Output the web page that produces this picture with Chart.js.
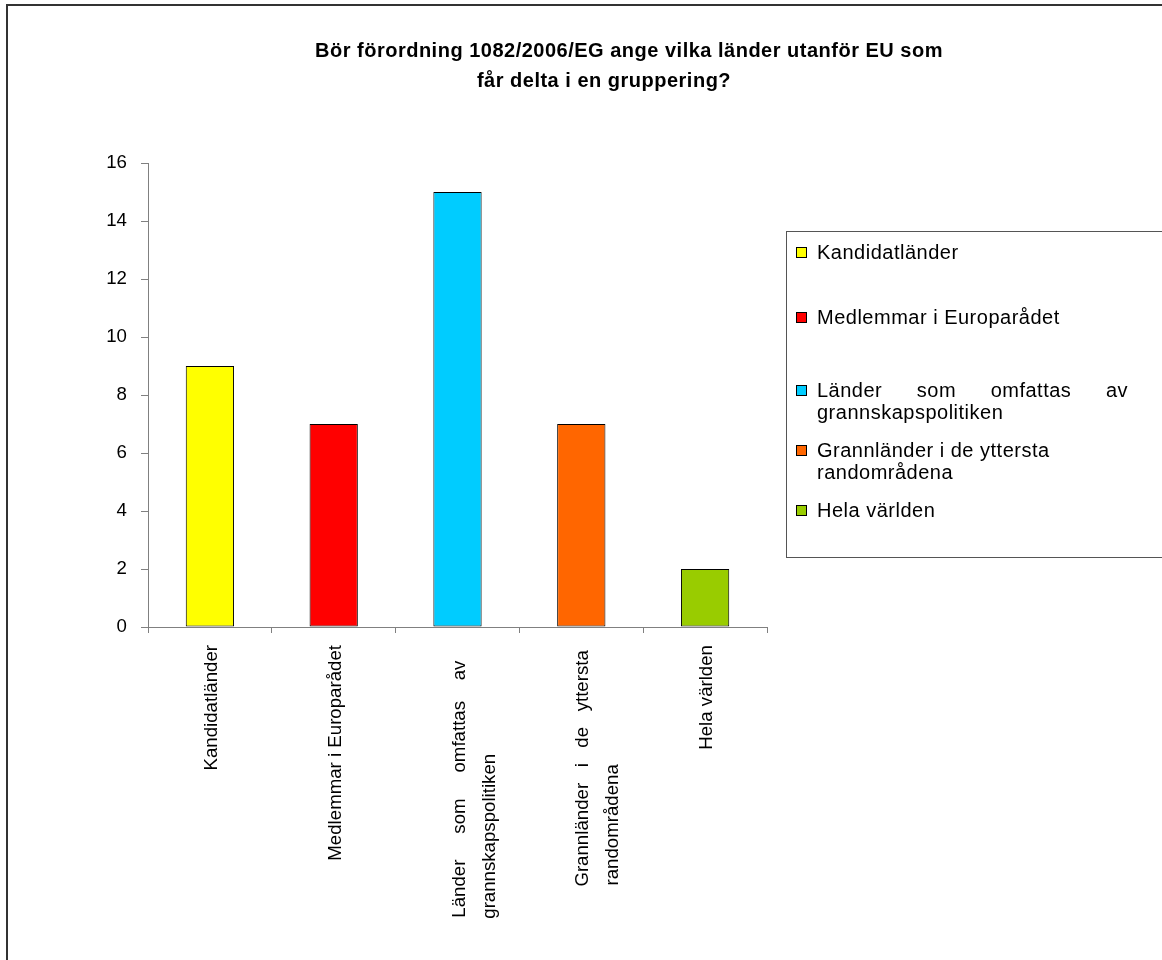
<!DOCTYPE html>
<html><head><meta charset="utf-8">
<script src="https://cdn.jsdelivr.net/npm/chart.js@4/dist/chart.umd.min.js"></script>
<style>html,body{margin:0;padding:0;background:#fff}canvas{display:block}</style>
</head><body>
<canvas id="c" width="1162" height="960"></canvas>
<script>
// ---- data ----
const titleLines = ['Bör förordning 1082/2006/EG ange vilka länder utanför EU som', 'får delta i en gruppering?'];
const categories = [
  ['Kandidatländer'],
  ['Medlemmar i Europarådet'],
  ['Länder som omfattas av', 'grannskapspolitiken'],
  ['Grannländer i de yttersta', 'randområdena'],
  ['Hela världen']
];
const values = [9, 7, 15, 7, 2];
const barColors = ['#FFFF00', '#FF0000', '#00CCFF', '#FF6600', '#99CC00'];
const yMin = 0, yMax = 16, yStep = 2;

// ---- styling helpers ----
const FAMILY = '"Liberation Sans", Arial, sans-serif';
const FS = 18.67;
const mctx = document.createElement('canvas').getContext('2d');
mctx.font = FS + 'px ' + FAMILY;
const W = s => mctx.measureText(s).width;
const SP = W(' ');

function justify(text, target) {
  const words = text.split(' ');
  const gaps = words.length - 1;
  let extra = Math.max(0, Math.round((target - W(text)) / SP));
  const g = new Array(gaps).fill(1);
  for (let i = 0; extra > 0; i = (i + 1) % gaps, extra--) g[i]++;
  return words.map((w, i) => w + (i < gaps ? ' '.repeat(g[i]) : '')).join('');
}
function padTo(text, target) {
  const n = Math.max(0, Math.round((target - W(text)) / SP));
  return text + ' '.repeat(n);
}
// Excel-like wrapped label layout: justified first line, lines starting together
const wrapWidth = [0, 0, 255, 235, 0];
const topShift = [0, 0, 17, 5, 0];
const axisLabels = categories.map((lines, i) => {
  if (lines.length === 1) return lines[0];
  let first = justify(lines[0], wrapWidth[i]);
  first = padTo(first, W(first) + topShift[i]);
  const w = W(first);
  return [first].concat(lines.slice(1).map(l => padTo(l, w)));
});

const LFS = 20;
const decor = {
  id: 'decor',
  beforeDraw(chart) {
    const ctx = chart.ctx;
    ctx.save();
    ctx.fillStyle = '#fff';
    ctx.fillRect(0, 0, chart.width, chart.height);
    ctx.restore();
  },
  afterDraw(chart) {
    const ctx = chart.ctx;
    ctx.save();
    // outer frame
    ctx.strokeStyle = '#333';
    ctx.lineWidth = 2;
    ctx.strokeRect(7, 5, 3000, 3000);
    // title
    ctx.fillStyle = '#000';
    ctx.font = 'bold ' + LFS + 'px ' + FAMILY;
    ctx.letterSpacing = '0.5px';
    ctx.textAlign = 'center';
    ctx.textBaseline = 'alphabetic';
    ctx.fillText(titleLines[0], 629, 56.5);
    ctx.fillText(titleLines[1], 604, 86.5);
    // legend frame
    ctx.letterSpacing = '0px';
    ctx.strokeStyle = '#555';
    ctx.lineWidth = 1;
    ctx.strokeRect(786.5, 231.5, 1000, 326);
    // legend items
    const baselines = [[258.5], [323.5], [396.5, 418.5], [457, 479], [516.5]];
    ctx.font = LFS + 'px ' + FAMILY;
    ctx.letterSpacing = '0.5px';
    ctx.textAlign = 'left';
    const tx = 817, tRight = 1128;
    categories.forEach((lines, i) => {
      const b = baselines[i];
      const top = Math.round(b[0] - 12);
      ctx.fillStyle = barColors[i];
      ctx.fillRect(796, top, 11, 11);
      ctx.strokeStyle = '#000';
      ctx.strokeRect(796.5, top + 0.5, 10, 10);
      ctx.fillStyle = '#000';
      lines.forEach((ln, j) => {
        if (lines.length > 1 && j === 0 && ln.startsWith('Länder')) {
          const words = ln.split(' ');
          const ws = words.map(w => ctx.measureText(w).width);
          const gap = (tRight - tx - ws.reduce((a, c) => a + c, 0)) / (words.length - 1);
          let x = tx;
          words.forEach((w, k) => { ctx.fillText(w, x, b[j]); x += ws[k] + gap; });
        } else {
          ctx.fillText(ln, tx, b[j]);
        }
      });
    });
    ctx.restore();
  }
};

const font = { family: FAMILY, size: FS, lineHeight: 1.6 };
new Chart(document.getElementById('c'), {
  type: 'bar',
  data: {
    labels: axisLabels,
    datasets: [{
      data: values,
      backgroundColor: barColors,
      borderColor: '#000',
      borderWidth: 1,
      borderSkipped: false,
      categoryPercentage: 1,
      barPercentage: 0.39
    }]
  },
  options: {
    responsive: false,
    animation: false,
    devicePixelRatio: 1,
    layout: { padding: { left: 0, right: 1162 - 767, top: 163, bottom: 0 } },
    plugins: { legend: { display: false }, title: { display: false }, tooltip: { enabled: false } },
    scales: {
      x: {
        grid: { offset: true, drawOnChartArea: false, drawTicks: true, tickLength: 6, color: '#808080' },
        border: { color: '#808080' },
        ticks: { autoSkip: false, minRotation: 90, maxRotation: 90, padding: 12, labelOffset: 2, color: '#000', font },
        afterFit(s) { s.height = 333; }
      },
      y: {
        min: yMin, max: yMax,
        ticks: { stepSize: yStep, padding: 14, color: '#000', font: { family: FAMILY, size: FS } },
        grid: { drawOnChartArea: false, drawTicks: true, tickLength: 7, color: '#808080' },
        border: { color: '#808080' },
        afterFit(s) { s.width = 148; }
      }
    }
  },
  plugins: [decor]
});
</script>
</body></html>
